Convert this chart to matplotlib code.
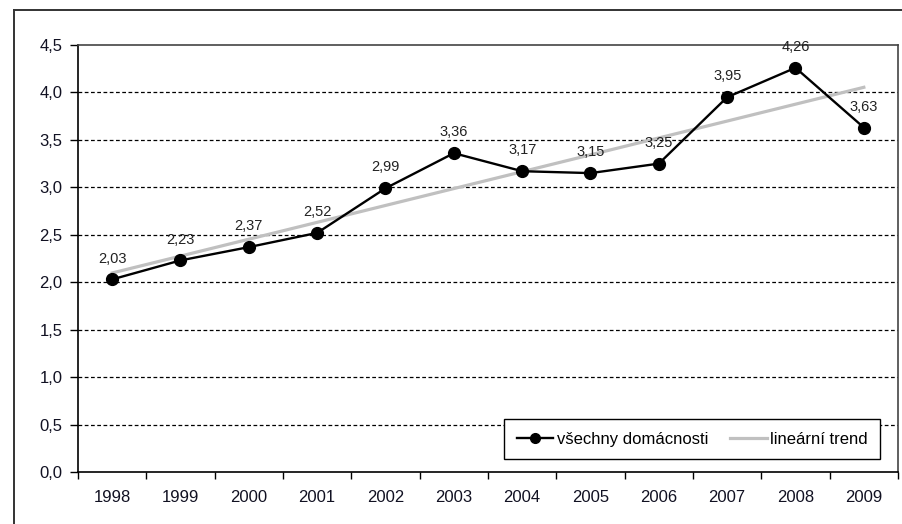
import numpy as np
import matplotlib
matplotlib.use("Agg")
import matplotlib.pyplot as plt
from matplotlib.lines import Line2D

# data
years = ["1998", "1999", "2000", "2001", "2002", "2003",
         "2004", "2005", "2006", "2007", "2008", "2009"]
values = [2.03, 2.23, 2.37, 2.52, 2.99, 3.36, 3.17, 3.15, 3.25, 3.95, 4.26, 3.63]
y_ticks = [0.0, 0.5, 1.0, 1.5, 2.0, 2.5, 3.0, 3.5, 4.0, 4.5]
series_label = "všechny domácnosti"
trend_label = "lineární trend"

plt.rcParams["font.family"] = ["Liberation Sans", "DejaVu Sans"]

W, H = 902, 524
fig = plt.figure(figsize=(W / 100, H / 100), dpi=100)
ax = fig.add_axes([78 / W, 1 - 472 / H, (898 - 78) / W, (472 - 45) / H])

x = np.arange(len(years))
slope, icpt = np.polyfit(x, values, 1)
ax.plot(x, slope * x + icpt, color="#c0c0c0", lw=2.3, zorder=2)
ax.plot(x, values, color="black", lw=1.7, marker="o", ms=8.5, zorder=3)

for xi, v in zip(x, values):
    ax.annotate(f"{v:.2f}".replace(".", ","), (xi, v), xytext=(0, 15),
                textcoords="offset points", ha="center", va="center",
                fontsize=10.5, color="#222222", zorder=4)

ax.set_xlim(-0.5, len(years) - 0.5)
ax.set_ylim(0, 4.5)

# category axis: ticks on boundaries, labels in the middle
ax.set_xticks(np.arange(-0.5, len(years), 1.0))
ax.set_xticklabels([])
ax.set_xticks(x, minor=True)
ax.set_xticklabels(years, minor=True, fontsize=12, color="#111122")
ax.tick_params(axis="x", which="major", direction="out", length=5, width=1)
ax.tick_params(axis="x", which="minor", length=0, pad=13)

ax.set_yticks(y_ticks)
ax.set_yticklabels([f"{t:.1f}".replace(".", ",") for t in y_ticks],
                   fontsize=12, color="#111122")
ax.tick_params(axis="y", direction="out", length=6, width=1, pad=5)

for t in y_ticks[1:-1]:
    ax.axhline(t, color="black", lw=0.9, ls=(0, (3, 2)), zorder=1)

for side in ["left", "bottom"]:
    ax.spines[side].set_color("black")
    ax.spines[side].set_linewidth(1.2)
for side in ["top", "right"]:
    ax.spines[side].set_color("#444444")
    ax.spines[side].set_linewidth(1.2)

handles = [
    Line2D([0], [0], color="black", lw=1.7, marker="o", ms=7),
    Line2D([0], [0], color="#c0c0c0", lw=2.3),
]
leg = ax.legend(handles, [series_label, trend_label], loc="lower right",
                bbox_to_anchor=(0.978, 0.03), borderaxespad=0, ncol=2,
                fontsize=12, frameon=True, fancybox=False, edgecolor="black",
                framealpha=1, handlelength=2.2, handletextpad=0.2,
                columnspacing=1.3, borderpad=0.75)
leg.get_frame().set_linewidth(1.0)

# outer chart frame (only top and left edge visible)
fy = 1 - 10 / H
fx = 14 / W
fig.add_artist(Line2D([fx, 1.0], [fy, fy], color="#333333", lw=1.4,
                      transform=fig.transFigure))
fig.add_artist(Line2D([fx, fx], [0, fy], color="#333333", lw=1.4,
                      transform=fig.transFigure))

fig.savefig("out.png", dpi=100)
